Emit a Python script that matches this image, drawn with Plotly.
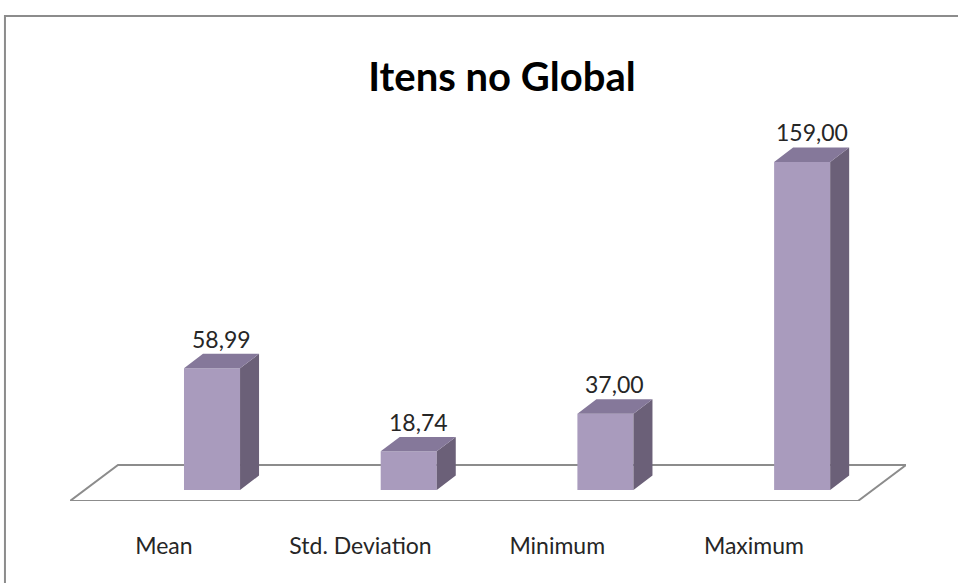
import plotly.graph_objects as go

categories = ["Mean", "Std. Deviation", "Minimum", "Maximum"]
values = [58.99, 18.74, 37.00, 159.00]
value_labels = ["58,99", "18,74", "37,00", "159,00"]

front_color = "#A99BBD"
side_color = "#6B6078"
top_color = "#85789A"

# fake 3d depth, in axis units
w = 0.285
dx = 0.0966
dy = 7.0

x_pos = list(range(len(categories)))
x_range = [-0.722, 3.528]
y_range = [-5.33, 169.6]

side_x, side_y, top_x, top_y = [], [], [], []
for i, v in zip(x_pos, values):
    r = i + w / 2
    l = i - w / 2
    side_x += [r, r + dx, r + dx, r, r, None]
    side_y += [0, dy, v + dy, v, 0, None]
    top_x += [l, r, r + dx, l + dx, l, None]
    top_y += [v, v, v + dy, v + dy, v, None]

fig = go.Figure()
fig.add_trace(go.Bar(
    x=x_pos, y=values, width=w,
    marker=dict(color=front_color, line=dict(width=0)),
    hoverinfo="skip"
))
fig.add_trace(go.Scatter(
    x=side_x, y=side_y, mode="lines", fill="toself",
    fillcolor=side_color, line=dict(width=0, color=side_color),
    hoverinfo="skip"
))
fig.add_trace(go.Scatter(
    x=top_x, y=top_y, mode="lines", fill="toself",
    fillcolor=top_color, line=dict(width=0, color=top_color),
    hoverinfo="skip"
))

# value labels above each bar
for i, v, t in zip(x_pos, values, value_labels):
    fig.add_annotation(
        x=i + dx / 2, y=v + dy, text=t, showarrow=False,
        yanchor="bottom", yshift=-1,
        font=dict(family="Lato", size=23, color="#262626")
    )

# floor parallelogram
back_y = 12.1
fig.add_shape(
    type="path", layer="below",
    path="M {} {} L {} {} L {} {} L {} {} Z".format(
        x_range[0], y_range[0], 3.284, y_range[0],
        x_range[1], back_y, -0.478, back_y),
    fillcolor="white", line=dict(color="#8C8C8C", width=2)
)

# outer chart border
fig.add_shape(
    type="rect", xref="paper", yref="paper",
    x0=-0.0778, x1=1.2, y0=-0.4, y1=1.3435,
    line=dict(color="#8C8C8C", width=2), fillcolor="rgba(0,0,0,0)"
)

fig.update_layout(
    width=958, height=583,
    margin=dict(l=70, r=52, t=140, b=82),
    paper_bgcolor="white", plot_bgcolor="white",
    showlegend=False,
    title=dict(
        text="<b>Itens no Global</b>", x=0.524, xanchor="center",
        y=0.868, yanchor="middle",
        font=dict(family="Lato", size=40, color="black")
    )
)

# category labels sit at the front edge of the floor, so a bit to the left
fig.update_xaxes(
    range=x_range, tickvals=[i - 0.245 for i in x_pos], ticktext=categories,
    showgrid=False, zeroline=False, showline=False, ticks="",
    ticklabelstandoff=29,
    tickfont=dict(family="Lato", size=23, color="#262626")
)
fig.update_yaxes(
    range=y_range, showgrid=False, zeroline=False,
    showline=False, showticklabels=False, ticks=""
)

fig.write_html("out.html", config={"displayModeBar": False},
               post_script="document.body.style.margin='0';")
